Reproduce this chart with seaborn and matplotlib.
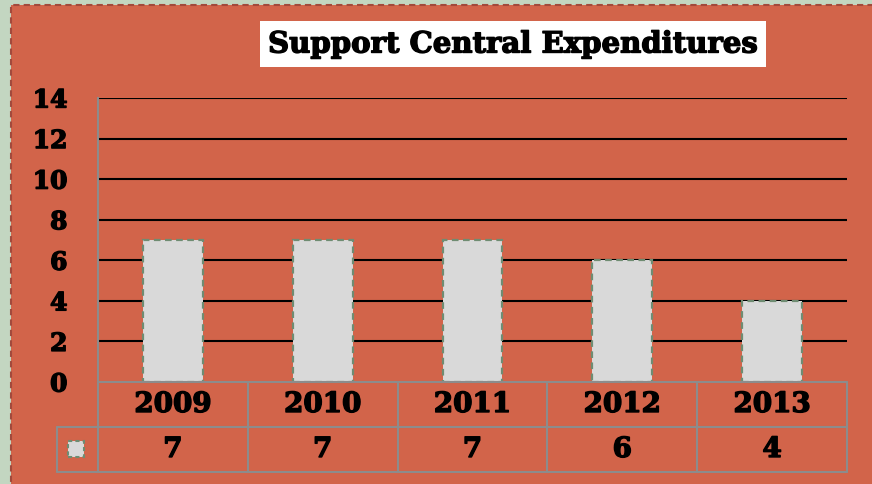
import matplotlib
matplotlib.use("Agg")
import matplotlib.pyplot as plt
import matplotlib.patches as mpatches
import matplotlib.patheffects as pe
import matplotlib.transforms as mtransforms
import pandas as pd
import seaborn as sns

# chart data
years = ["2009", "2010", "2011", "2012", "2013"]
expenditures = [7, 7, 7, 6, 4]
y_ticks = [0, 2, 4, 6, 8, 10, 12, 14]
title = "Support Central Expenditures"

BG_OUTER = "#c3d6c1"
BG_CHART = "#d2644a"
BAR_FILL = "#d9d9d9"
BAR_EDGE = "#6f8c72"
TABLE_LINE = "#8c8c8c"
FONT = ["DejaVu Serif"]
HEAVY = [pe.withStroke(linewidth=1.0, foreground="black")]

sns.set_theme(style="white")
plt.rcParams["font.family"] = FONT
plt.rcParams["font.weight"] = "bold"

df = pd.DataFrame({"year": years, "value": expenditures})

fig = plt.figure(figsize=(8.72, 4.85), dpi=100, facecolor=BG_OUTER)
W, H = 872, 485

# chart area with dashed border
fig.patches.append(mpatches.Rectangle(
    (11 / W, -0.02), 1.05, 1 - 6 / H + 0.02, transform=fig.transFigure,
    facecolor=BG_CHART, edgecolor="#a24a3c", linewidth=1.5, linestyle=(0, (3, 2)), zorder=-10))

ax = fig.add_axes([98 / W, 1 - 383 / H, (847 - 98) / W, (383 - 99) / H])
ax.set_facecolor("none")

sns.barplot(data=df, x="year", y="value", color=BAR_FILL, width=0.4,
            edgecolor=BAR_EDGE, linewidth=1.6, saturation=1, ax=ax, zorder=3)
for p in ax.patches:
    p.set_linestyle((0, (3, 2)))

ax.set_ylim(0, 14)
ax.set_xlim(-0.5, len(years) - 0.5)
ax.set_yticks(y_ticks)
ax.set_yticklabels([str(t) for t in y_ticks], fontsize=18, fontweight="bold", color="black")
for lbl in ax.get_yticklabels():
    lbl.set_path_effects(HEAVY)
ax.tick_params(axis="y", length=0, pad=22)
ax.set_xticks([])
ax.set_xlabel("")
ax.set_ylabel("")
for t in y_ticks[1:]:
    ax.axhline(t, color="black", linewidth=1.5, zorder=1)
for side in ["top", "right", "bottom"]:
    ax.spines[side].set_visible(False)
ax.spines["left"].set_color(TABLE_LINE)
ax.spines["left"].set_linewidth(1.5)

# data table below the plot
tr = mtransforms.blended_transform_factory(ax.transData, ax.transAxes)
row_h = 45 / (383 - 99)
y_top, y_mid, y_bot = 0, -row_h, -2 * row_h
x_left = -0.5
x_right = len(years) - 0.5
x_label = -0.5 - (98 - 57) / ((847 - 98) / len(years))
line_kw = dict(color=TABLE_LINE, linewidth=1.5, transform=tr, clip_on=False, zorder=4)
ax.plot([x_left, x_right], [y_top, y_top], **line_kw)
ax.plot([x_label, x_right], [y_mid, y_mid], **line_kw)
ax.plot([x_label, x_right], [y_bot, y_bot], **line_kw)
ax.plot([x_label, x_label], [y_mid, y_bot], **line_kw)
for i in range(len(years) + 1):
    ax.plot([x_left + i, x_left + i], [y_top, y_bot], **line_kw)
for i, (yr, v) in enumerate(zip(years, expenditures)):
    ax.text(i, (y_top + y_mid) / 2, yr, transform=tr, ha="center", va="center",
            fontsize=20, fontweight="bold", color="black", path_effects=HEAVY)
    ax.text(i, (y_mid + y_bot) / 2, str(v), transform=tr, ha="center", va="center",
            fontsize=20, fontweight="bold", color="black", path_effects=HEAVY)

# legend key in the row label cell
fig.patches.append(mpatches.Rectangle(
    (68 / W, 1 - 458 / H), 16 / W, 16 / H, transform=fig.transFigure,
    facecolor=BAR_FILL, edgecolor=BAR_EDGE, linewidth=1.5, linestyle=(0, (2, 1.5)), zorder=5))

fig.text(513 / W, 1 - 45 / H, title, ha="center", va="center", fontsize=21,
         fontweight="bold", color="black", path_effects=HEAVY,
         bbox=dict(facecolor="white", edgecolor="none", pad=6))

fig.savefig("out.png", dpi=100, facecolor=BG_OUTER)
